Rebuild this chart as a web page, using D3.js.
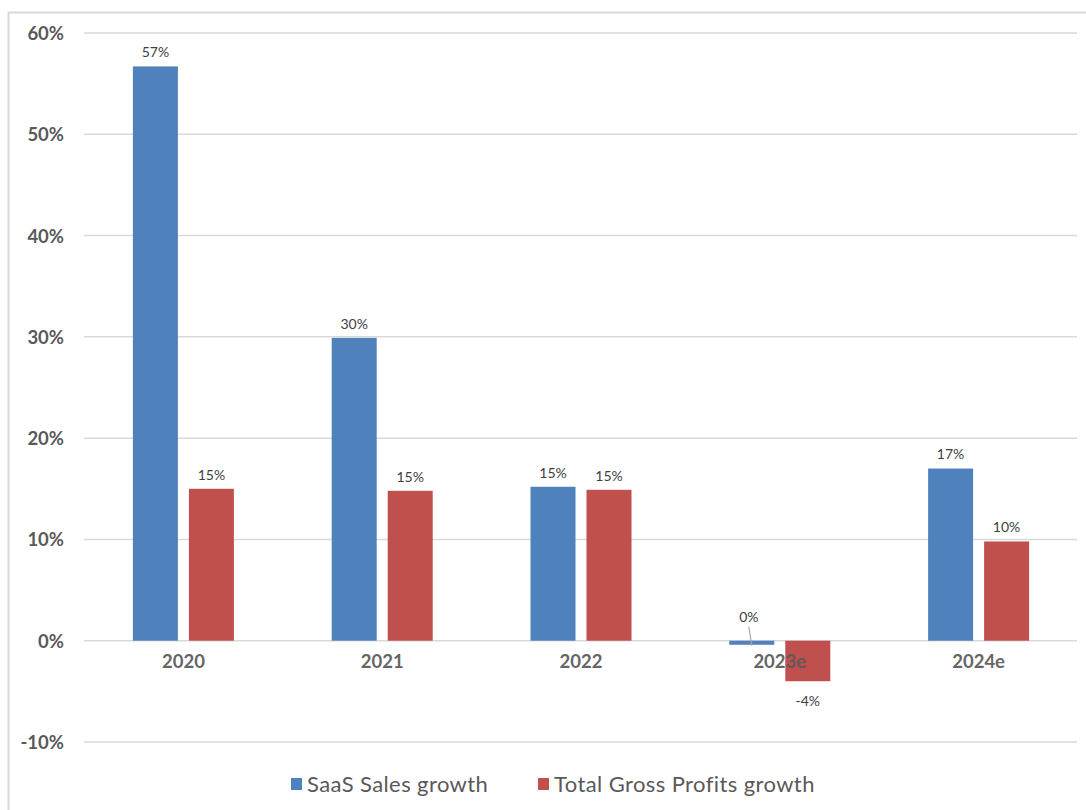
<!DOCTYPE html>
<html><head><meta charset="utf-8">
<script src="https://cdn.jsdelivr.net/npm/d3@7"></script>
<style>body{margin:0;background:#fff;} svg{display:block;}</style>
</head><body>
<svg id="c" width="1086" height="810"></svg>
<script>
const categories = ["2020","2021","2022","2023e","2024e"];
const saasSales = [56.7, 29.9, 15.2, -0.4, 17.0];
const grossProfits = [15.0, 14.8, 14.9, -4.0, 9.8];
const seriesNames = ["SaaS Sales growth","Total Gross Profits growth"];
const seriesColors = ["#4F81BD","#C0504D"];
const dataLabels = [["57%","30%","15%","0%","17%"],["15%","15%","15%","-4%","10%"]];
const yTicks = [-10,0,10,20,30,40,50,60];

const svg = d3.select("#c");
const font = "Lato, 'Open Sans', sans-serif";
// outer border
svg.append("path").attr("d","M8.5,810 V12.5 H1086").attr("fill","none").attr("stroke","#d9d9d9").attr("stroke-width",2);

const x0 = d3.scaleBand().domain(categories).range([84,1078]);
const y = d3.scaleLinear().domain([-10,60]).range([742,33]);
const series = [saasSales, grossProfits];
const barW = 45, gap = 11;
const x1 = i => x0.bandwidth()/2 - (barW + gap/2) + i*(barW+gap);

// gridlines
svg.append("g").selectAll("line").data(yTicks).join("line")
  .attr("x1",84).attr("x2",1077).attr("y1",d=>y(d)).attr("y2",d=>y(d))
  .attr("stroke","#d9d9d9").attr("stroke-width",1.5);

// y axis labels
const yAxis = d3.axisLeft(y).tickValues(yTicks).tickFormat(d=>d+"%").tickSize(0).tickPadding(0);
const yg = svg.append("g").attr("transform","translate(64,0)").call(yAxis);
yg.select(".domain").remove();
yg.selectAll("text").attr("font-family",font).attr("font-weight","bold").attr("font-size",18.5).attr("fill","#595959").attr("dy","0.35em");

// bars
series.forEach((vals,i)=>{
  const g = svg.append("g");
  g.selectAll("rect").data(vals).join("rect")
    .attr("x",(d,j)=>x0(categories[j])+x1(i))
    .attr("width",barW)
    .attr("y",d=>y(Math.max(0,d)))
    .attr("height",d=>Math.abs(y(d)-y(0)))
    .attr("fill",seriesColors[i]);
});

// category labels
const xAxis = d3.axisBottom(x0).tickSize(0).tickPadding(0);
const xg = svg.append("g").attr("transform",`translate(0,${y(0)+21})`).call(xAxis);
xg.select(".domain").remove();
xg.selectAll("text").attr("font-family",font).attr("font-weight","bold").attr("font-size",18.5).attr("fill","#595959").attr("dy","0.35em").attr("opacity",0.92);

// data labels
series.forEach((vals,i)=>{
  vals.forEach((d,j)=>{
    const cx = x0(categories[j])+x1(i)+barW/2;
    let ty, tx = cx;
    if (d >= 0) ty = y(d) - 14;
    else if (d > -1) { ty = y(0) - 24; tx = cx - 3; }
    else ty = y(d) + 20;
    svg.append("text").attr("x",tx).attr("y",ty).attr("dy","0.35em")
      .attr("text-anchor","middle").attr("font-family",font).attr("font-size",14)
      .attr("fill","#404040").text(dataLabels[i][j]);
    if (d < 0 && d > -1) {
      svg.append("line").attr("x1",tx).attr("y1",y(0)-14).attr("x2",cx).attr("y2",y(d)+1)
        .attr("stroke","#a6a6a6").attr("stroke-width",1.2);
    }
  });
});

// legend
const legX = [291, 538];
seriesNames.forEach((n,i)=>{
  svg.append("rect").attr("x",legX[i]).attr("y",778).attr("width",11).attr("height",12).attr("fill",seriesColors[i]);
  svg.append("text").attr("x",legX[i]+16).attr("y",784).attr("dy","0.35em")
    .attr("font-family",font).attr("font-size",22).attr("letter-spacing",0.4).attr("fill","#595959").text(n);
});
</script>
</body></html>
